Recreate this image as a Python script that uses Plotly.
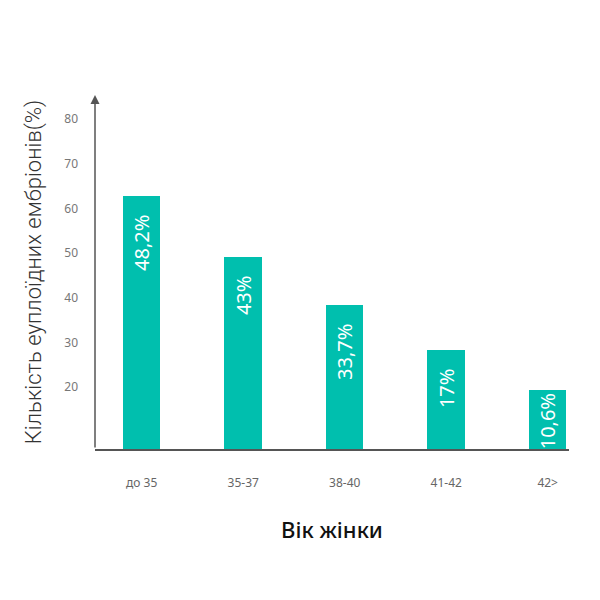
import plotly.graph_objects as go

# Age groups and the bar heights
age_groups = ["до 35", "35-37", "38-40", "41-42", "42>"]
bar_heights = [62.8, 49.1, 38.4, 28.3, 19.4]
bar_labels = ["48,2%", "43%", "33,7%", "17%", "10,6%"]
y_ticks = [20, 30, 40, 50, 60, 70, 80]

# push the rotated labels a little below the bar top (last bar is too short for it)
padded = [lbl + "\u00a0" * 3 if h > 25 else lbl for lbl, h in zip(bar_labels, bar_heights)]

fig = go.Figure()
fig.add_trace(go.Bar(x=age_groups, y=bar_heights, text=padded, width=0.37,
                     marker={"color": "#00bfae", "line": {"width": 0}},
                     textposition="inside", insidetextanchor="end", textangle=-90,
                     insidetextfont={"color": "white", "size": 20, "family": "Noto Sans"},
                     hoverinfo="skip"))

# Y axis drawn as an arrow
fig.add_annotation(xref="paper", yref="paper", x=0, y=1, ax=0, ay=354, axref="pixel", ayref="pixel",
                   showarrow=True, arrowhead=2, arrowsize=1.2, arrowwidth=1.5, arrowcolor="#555555", text="")

fig.update_xaxes(range=[-0.46, 4.21], showline=True, linecolor="#555555", linewidth=1.5,
                 showgrid=False, zeroline=False, ticks="", ticklabelstandoff=22,
                 tickfont={"size": 12, "color": "#666666", "family": "Noto Sans"},
                 title={"text": "Вік жінки", "standoff": 32,
                        "font": {"size": 22, "color": "#111111", "family": "Noto Sans", "weight": 500}})
fig.update_yaxes(range=[6.1, 85.4], tickvals=y_ticks, showline=False, showgrid=False, zeroline=False,
                 ticks="", ticklabelstandoff=16,
                 tickfont={"size": 12, "color": "#777777", "family": "Noto Sans"},
                 title={"text": "Кількість еуплоїдних ембріонів(%)", "standoff": 16,
                        "font": {"size": 22, "color": "#333333", "family": "Roboto", "weight": 300}})

fig.update_layout(width=600, height=600, margin={"l": 87, "r": 39, "t": 87, "b": 159},
                  plot_bgcolor="white", paper_bgcolor="white", showlegend=False, bargap=0)
fig.write_html("out.html")
